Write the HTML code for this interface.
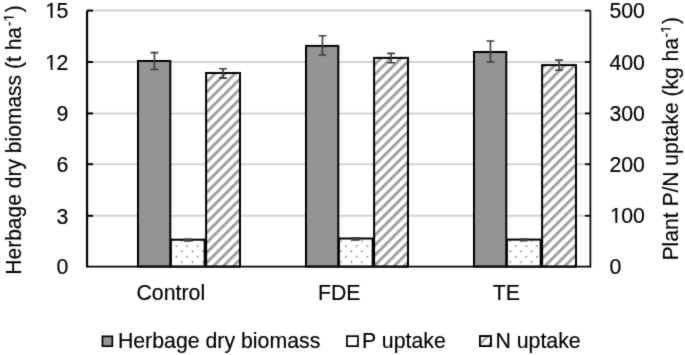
<!DOCTYPE html><html><head><meta charset="utf-8"><style>html,body{margin:0;padding:0;background:#fff;width:685px;height:355px;overflow:hidden}svg{display:block}text{font-family:"Liberation Sans",sans-serif;fill:#000;stroke:#000;stroke-width:0.15px}</style></head><body>
<svg width="685" height="355" viewBox="0 0 685 355">
<defs>
<filter id="soft" filterUnits="userSpaceOnUse" x="-10" y="-10" width="705" height="375" color-interpolation-filters="sRGB"><feConvolveMatrix order="3" kernelMatrix="0.02 0.08 0.02 0.08 0.6 0.08 0.02 0.08 0.02" divisor="1" edgeMode="duplicate" preserveAlpha="true"/></filter>
<pattern id="hatch" patternUnits="userSpaceOnUse" width="7.1" height="20" patternTransform="translate(0,5.5) rotate(45)"><rect x="0" y="0" width="7.1" height="20" fill="#fff"/><rect x="0" y="0" width="2.9" height="20" fill="#9e9e9e"/></pattern>
<pattern id="dots" patternUnits="userSpaceOnUse" x="175.6" y="245.3" width="10.6" height="10.6"><rect width="10.6" height="10.6" fill="#fff"/><circle cx="0.9" cy="0.9" r="0.8" fill="#5a5a5a"/><circle cx="6.2" cy="6.2" r="0.8" fill="#5a5a5a"/></pattern>
</defs>
<rect width="685" height="355" fill="#fff"/><g filter="url(#soft)"><rect x="-10" y="-10" width="705" height="375" fill="#fff"/>
<line x1="87.05" y1="215.80" x2="590.4" y2="215.80" stroke="#d2d2d2" stroke-width="2"/>
<line x1="87.05" y1="164.20" x2="590.4" y2="164.20" stroke="#d2d2d2" stroke-width="2"/>
<line x1="87.05" y1="113.40" x2="590.4" y2="113.40" stroke="#d2d2d2" stroke-width="2"/>
<line x1="87.05" y1="62.00" x2="590.4" y2="62.00" stroke="#d2d2d2" stroke-width="2"/>
<line x1="87.05" y1="10.60" x2="590.4" y2="10.60" stroke="#d2d2d2" stroke-width="2"/>
<rect x="138.00" y="61.00" width="32.30" height="205.60" fill="#949494" stroke="#000" stroke-width="2"/>
<rect x="170.90" y="239.70" width="33.80" height="26.90" fill="url(#dots)" stroke="#000" stroke-width="2"/>
<rect x="206.10" y="73.00" width="33.90" height="193.60" fill="url(#hatch)" stroke="#000" stroke-width="2"/>
<rect x="306.00" y="45.90" width="32.30" height="220.70" fill="#949494" stroke="#000" stroke-width="2"/>
<rect x="338.90" y="238.50" width="33.80" height="28.10" fill="url(#dots)" stroke="#000" stroke-width="2"/>
<rect x="374.10" y="57.90" width="33.90" height="208.70" fill="url(#hatch)" stroke="#000" stroke-width="2"/>
<rect x="474.00" y="52.00" width="32.30" height="214.60" fill="#949494" stroke="#000" stroke-width="2"/>
<rect x="506.90" y="239.60" width="33.80" height="27.00" fill="url(#dots)" stroke="#000" stroke-width="2"/>
<rect x="542.10" y="65.10" width="33.90" height="201.50" fill="url(#hatch)" stroke="#000" stroke-width="2"/>
<path d="M150.55 52.60H158.35M154.45 52.60V69.50M150.55 69.50H158.35" stroke="#3c3c3c" stroke-width="1.6" fill="none"/>
<path d="M183.90 239.20H191.70M187.80 239.20V241.00M183.90 241.00H191.70" stroke="#3c3c3c" stroke-width="1.6" fill="none"/>
<path d="M219.15 68.80H226.95M223.05 68.80V78.10M219.15 78.10H226.95" stroke="#3c3c3c" stroke-width="1.6" fill="none"/>
<path d="M318.55 35.80H326.35M322.45 35.80V55.00M318.55 55.00H326.35" stroke="#3c3c3c" stroke-width="1.6" fill="none"/>
<path d="M351.90 238.00H359.70M355.80 238.00V239.90M351.90 239.90H359.70" stroke="#3c3c3c" stroke-width="1.6" fill="none"/>
<path d="M387.15 53.40H394.95M391.05 53.40V62.70M387.15 62.70H394.95" stroke="#3c3c3c" stroke-width="1.6" fill="none"/>
<path d="M486.55 41.00H494.35M490.45 41.00V62.00M486.55 62.00H494.35" stroke="#3c3c3c" stroke-width="1.6" fill="none"/>
<path d="M519.90 239.00H527.70M523.80 239.00V240.60M519.90 240.60H527.70" stroke="#3c3c3c" stroke-width="1.6" fill="none"/>
<path d="M555.15 60.10H562.95M559.05 60.10V70.30M555.15 70.30H562.95" stroke="#3c3c3c" stroke-width="1.6" fill="none"/>
<path d="M87.05 10.6V266.6" stroke="#000" stroke-width="2.2" fill="none"/>
<path d="M86.05 266.6H590.4" stroke="#000" stroke-width="1.7" fill="none"/>
<path d="M590.4 10.6V267.5" stroke="#000" stroke-width="1.7" fill="none"/>
<line x1="87.05" y1="215.80" x2="93.05" y2="215.80" stroke="#000" stroke-width="2"/>
<line x1="584.9" y1="215.80" x2="590.4" y2="215.80" stroke="#000" stroke-width="1.8"/>
<line x1="87.05" y1="164.20" x2="93.05" y2="164.20" stroke="#000" stroke-width="2"/>
<line x1="584.9" y1="164.20" x2="590.4" y2="164.20" stroke="#000" stroke-width="1.8"/>
<line x1="87.05" y1="113.40" x2="93.05" y2="113.40" stroke="#000" stroke-width="2"/>
<line x1="584.9" y1="113.40" x2="590.4" y2="113.40" stroke="#000" stroke-width="1.8"/>
<line x1="87.05" y1="62.00" x2="93.05" y2="62.00" stroke="#000" stroke-width="2"/>
<line x1="584.9" y1="62.00" x2="590.4" y2="62.00" stroke="#000" stroke-width="1.8"/>
<line x1="87.05" y1="10.60" x2="93.05" y2="10.60" stroke="#000" stroke-width="2"/>
<line x1="584.9" y1="10.60" x2="590.4" y2="10.60" stroke="#000" stroke-width="1.8"/>
<text transform="translate(56.45,274.40) scale(1,1.05)" font-size="21.3" text-anchor="start">0</text>
<text transform="translate(609.40,274.20) scale(1,1.05)" font-size="21.3" text-anchor="start">0</text>
<text transform="translate(56.45,223.60) scale(1,1.05)" font-size="21.3" text-anchor="start">3</text>
<text transform="translate(609.40,223.40) scale(1,1.05)" font-size="21.3" text-anchor="start"><tspan dx="0.7">1</tspan><tspan dx="-0.7">00</tspan></text>
<rect x="610.72" y="220.70" width="4.73" height="3.4" fill="#fff"/>
<rect x="617.34" y="220.70" width="4.20" height="3.4" fill="#fff"/>
<text transform="translate(56.45,172.00) scale(1,1.05)" font-size="21.3" text-anchor="start">6</text>
<text transform="translate(609.40,171.80) scale(1,1.05)" font-size="21.3" text-anchor="start">200</text>
<text transform="translate(56.45,121.20) scale(1,1.05)" font-size="21.3" text-anchor="start">9</text>
<text transform="translate(609.40,121.00) scale(1,1.05)" font-size="21.3" text-anchor="start">300</text>
<text transform="translate(44.61,69.80) scale(1,1.05)" font-size="21.3" text-anchor="start"><tspan dx="0.7">1</tspan><tspan dx="-0.7">2</tspan></text>
<rect x="45.93" y="67.10" width="4.73" height="3.4" fill="#fff"/>
<rect x="52.55" y="67.10" width="4.20" height="3.4" fill="#fff"/>
<text transform="translate(609.40,69.60) scale(1,1.05)" font-size="21.3" text-anchor="start">400</text>
<text transform="translate(44.61,18.40) scale(1,1.05)" font-size="21.3" text-anchor="start"><tspan dx="0.7">1</tspan><tspan dx="-0.7">5</tspan></text>
<rect x="45.93" y="15.70" width="4.73" height="3.4" fill="#fff"/>
<rect x="52.55" y="15.70" width="4.20" height="3.4" fill="#fff"/>
<text transform="translate(609.40,18.20) scale(1,1.05)" font-size="21.3" text-anchor="start">500</text>
<text transform="translate(170.80,299.60) scale(1,1.0)" font-size="21.3" text-anchor="middle">Control</text>
<text transform="translate(339.20,299.60) scale(1,1.04)" font-size="21.3" text-anchor="middle">FDE</text>
<text transform="translate(506.40,299.60) scale(1,1.04)" font-size="21.3" text-anchor="middle">TE</text>
<g transform="translate(20.70,274.70) rotate(-90) scale(0.992,1.0)"><text font-size="21.2">Herbage dry biomass (t ha</text>
</g>
<g transform="translate(13.80,26.10) rotate(-90) scale(1.0,1.0)"><text font-size="13.8">-1</text>
<rect x="5.00" y="-1.9" width="3.07" height="2.8" fill="#fff"/>
<rect x="9.29" y="-1.9" width="2.72" height="2.8" fill="#fff"/>
</g>
<g transform="translate(20.70,12.20) rotate(-90) scale(1.0,1.0)"><text font-size="21.2">)</text>
</g>
<g transform="translate(678.10,260.50) rotate(-90) scale(0.995,1.0)"><text font-size="21.2">Plant P/N uptake (kg ha</text>
</g>
<g transform="translate(671.10,37.60) rotate(-90) scale(1.0,1.0)"><text font-size="13.8">-1</text>
<rect x="5.00" y="-1.9" width="3.07" height="2.8" fill="#fff"/>
<rect x="9.29" y="-1.9" width="2.72" height="2.8" fill="#fff"/>
</g>
<g transform="translate(678.10,23.90) rotate(-90) scale(1.0,1.0)"><text font-size="21.2">)</text>
</g>
<rect x="102.45" y="336.35" width="9.90" height="9.80" fill="#949494" stroke="#000" stroke-width="1.7"/>
<text transform="translate(117.90,347.80) scale(1,1.0)" font-size="21.3" text-anchor="start">Herbage dry biomass</text>
<rect x="346.95" y="336.15" width="11.00" height="10.00" fill="#fff" stroke="#000" stroke-width="1.7"/>
<text transform="translate(362.10,347.80) scale(1,1.0)" font-size="21.3" text-anchor="start">P uptake</text>
<clipPath id="lgN"><rect x="479.85" y="336.15" width="11.0" height="10.0"/></clipPath>
<rect x="479.85" y="336.15" width="11.00" height="10.00" fill="#fff" stroke="#000" stroke-width="1.7"/>
<g clip-path="url(#lgN)" stroke="#a8a8a8" stroke-width="2.6"><line x1="477" y1="347" x2="491" y2="333"/><line x1="482" y1="352" x2="496" y2="338"/></g>
<rect x="479.85" y="336.15" width="11.0" height="10.0" fill="none" stroke="#000" stroke-width="1.7"/>
<text transform="translate(495.40,347.80) scale(1,1.0)" font-size="21.3" text-anchor="start">N uptake</text>
</g></svg></body></html>
